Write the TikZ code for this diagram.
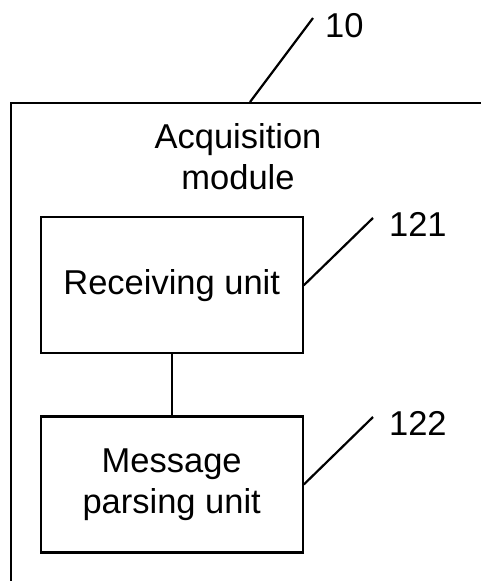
\documentclass[tikz,border=0pt]{standalone}
\usepackage{fontspec}
\setmainfont{Liberation Sans}
\begin{document}
\begin{tikzpicture}[x=1pt,y=-1pt,line width=2.2pt,
  unitbox/.style={draw,minimum width=262pt,minimum height=136pt,align=center,inner sep=0pt},
  reflabel/.style={anchor=base west,inner sep=0pt},
  txt/.style={font=\fontsize{34.5}{40.5}\selectfont}]
\useasboundingbox (0,0) rectangle (481,581);
\clip (0,0) rectangle (481,581);
\tikzset{every node/.append style={txt}}

% enclosing module, running off the page to the right and below
\node[draw,anchor=north west,minimum width=520pt,minimum height=520pt,inner sep=0pt] (acq) at (10,102) {};
\node[align=center,anchor=base] (acqtitle) at (238,189) {Acquisition\\module};

% inner units
\node[unitbox] (rcv) at (171.7,285.3) {Receiving unit};
\node[unitbox] (msg) at (171.7,484.5) {Message\\parsing unit};
\draw (rcv.south) -- (msg.north);

% reference numerals and leaders
\coordinate (l10) at (313,18);
\coordinate (a10) at (250,102);
\draw (a10) -- (l10);
\node[reflabel] (n10) at (324,37) {10};

\coordinate (l121) at (373,218);
\draw (rcv.east) -- (l121);
\node[reflabel] (n121) at (388,236) {121};

\coordinate (l122) at (373,417);
\draw (msg.east) -- (l122);
\node[reflabel] (n122) at (388,435) {122};
\end{tikzpicture}
\end{document}
